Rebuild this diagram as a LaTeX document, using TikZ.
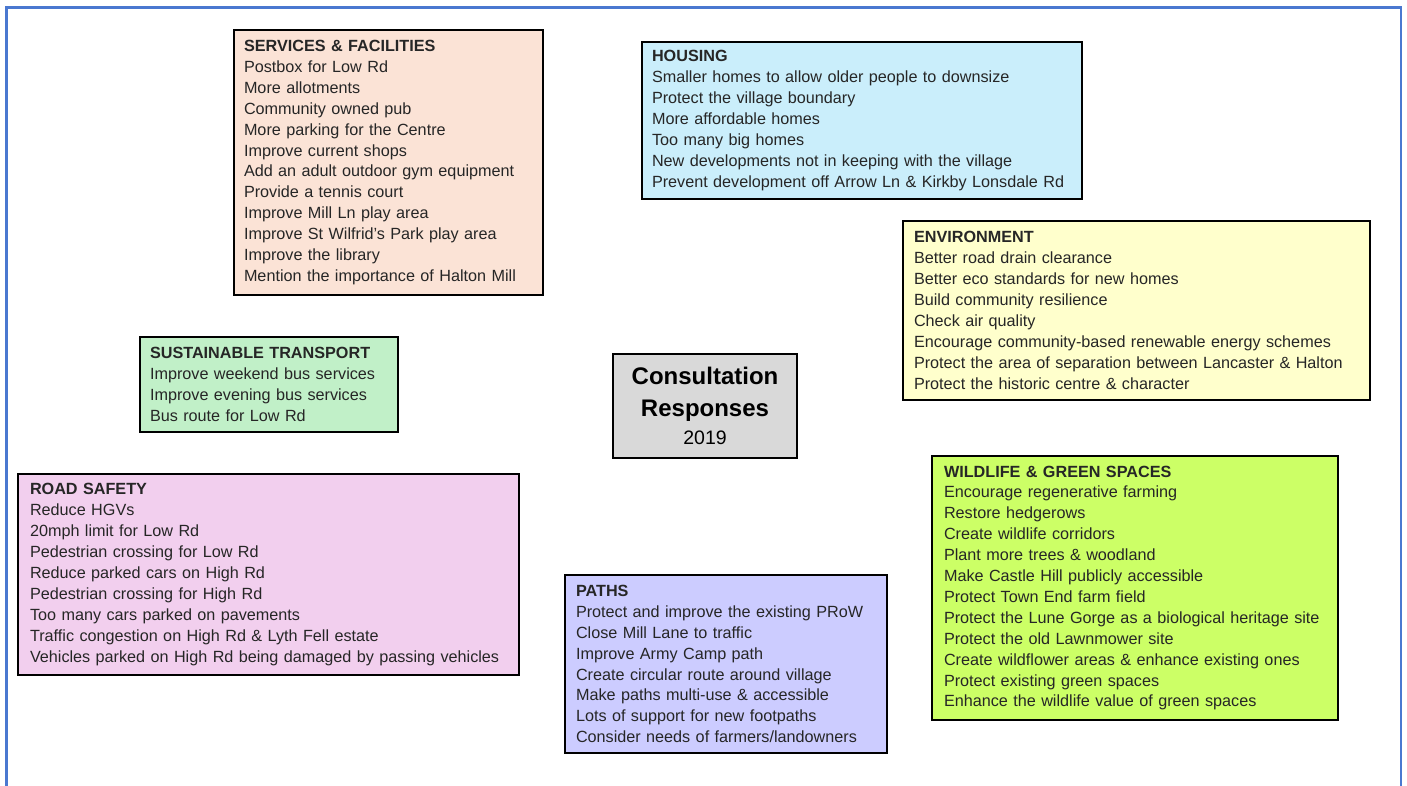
\documentclass[tikz,border=0pt]{standalone}
\usepackage{fontspec}
\setmainfont{Liberation Sans}
\usepackage{tikz}

\definecolor{framecol}{HTML}{4A78D0}
\definecolor{svcfill}{HTML}{FBE3D6}
\definecolor{housefill}{HTML}{CAEEFB}
\definecolor{envfill}{HTML}{FFFFCC}
\definecolor{transfill}{HTML}{C1F0C8}
\definecolor{hubfill}{HTML}{D9D9D9}
\definecolor{roadfill}{HTML}{F2CFEE}
\definecolor{pathfill}{HTML}{CCCCFF}
\definecolor{wildfill}{HTML}{CCFF66}

\begin{document}
\begin{tikzpicture}[x=1pt,y=-1pt,
    topic/.style={draw, line width=2.6pt, inner xsep=10pt, inner ysep=0pt,
        align=left, text=black!85, font=\fontsize{16.2}{20.9}\selectfont},
    hub/.style={draw, line width=2.6pt, fill=hubfill, align=center,
        minimum width=184pt, minimum height=104pt, inner sep=0pt,
        font=\fontsize{24}{32}\selectfont\bfseries}]
    \useasboundingbox (0,0) rectangle (1407,785);
    \draw[framecol, line width=2.5pt] (6.5,786) -- (6.5,7.5) -- (1401,7.5) -- (1401,786);

    \node[topic, fill=svcfill, minimum width=309pt, minimum height=265pt, text width=289pt](svc) at (388.5,162.5)
        {\textbf{SERVICES \& FACILITIES}\\Postbox for Low Rd\\More allotments\\Community owned pub\\
         More parking for the Centre\\Improve current shops\\Add an adult outdoor gym equipment\\
         Provide a tennis court\\Improve Mill Ln play area\\Improve St Wilfrid’s Park play area\\
         Improve the library\\Mention the importance of Halton Mill};
    \node[topic, fill=housefill, minimum width=440pt, minimum height=157pt, text width=420pt](house) at (862,120.5)
        {\textbf{HOUSING}\\Smaller homes to allow older people to downsize\\Protect the village boundary\\
         More affordable homes\\Too many big homes\\New developments not in keeping with the village\\
         Prevent development off Arrow Ln \& Kirkby Lonsdale Rd};
    \node[topic, fill=envfill, minimum width=467pt, minimum height=179pt, text width=445pt](env) at (1136.5,310.5)
        {\textbf{ENVIRONMENT}\\Better road drain clearance\\Better eco standards for new homes\\
         Build community resilience\\Check air quality\\Encourage community-based renewable energy schemes\\
         Protect the area of separation between Lancaster \& Halton\\Protect the historic centre \& character};
    \node[topic, fill=transfill, minimum width=258pt, minimum height=95pt, text width=238pt](trans) at (269,384.5)
        {\textbf{SUSTAINABLE TRANSPORT}\\Improve weekend bus services\\Improve evening bus services\\Bus route for Low Rd};
    \node[hub](hub) at (705,406)
        {Consultation\\Responses\\[-4pt]{\mdseries\fontsize{19.5}{29}\selectfont 2019}};
    \node[topic, fill=roadfill, minimum width=501pt, minimum height=201pt, text width=477pt](road) at (268.5,574.5)
        {\textbf{ROAD SAFETY}\\Reduce HGVs\\20mph limit for Low Rd\\Pedestrian crossing for Low Rd\\
         Reduce parked cars on High Rd\\Pedestrian crossing for High Rd\\Too many cars parked on pavements\\
         Traffic congestion on High Rd \& Lyth Fell estate\\
         Vehicles parked on High Rd being damaged by passing vehicles};
    \node[topic, fill=pathfill, minimum width=322pt, minimum height=178pt, text width=300pt](paths) at (726,664)
        {\textbf{PATHS}\\Protect and improve the existing PRoW\\Close Mill Lane to traffic\\Improve Army Camp path\\
         Create circular route around village\\Make paths multi-use \& accessible\\
         Lots of support for new footpaths\\Consider needs of farmers/landowners};
    \node[topic, fill=wildfill, minimum width=406pt, minimum height=264pt, text width=382pt](wild) at (1135,588)
        {\textbf{WILDLIFE \& GREEN SPACES}\\Encourage regenerative farming\\Restore hedgerows\\Create wildlife corridors\\
         Plant more trees \& woodland\\Make Castle Hill publicly accessible\\Protect Town End farm field\\
         Protect the Lune Gorge as a biological heritage site\\Protect the old Lawnmower site\\
         Create wildflower areas \& enhance existing ones\\Protect existing green spaces\\
         Enhance the wildlife value of green spaces};
\end{tikzpicture}
\end{document}
